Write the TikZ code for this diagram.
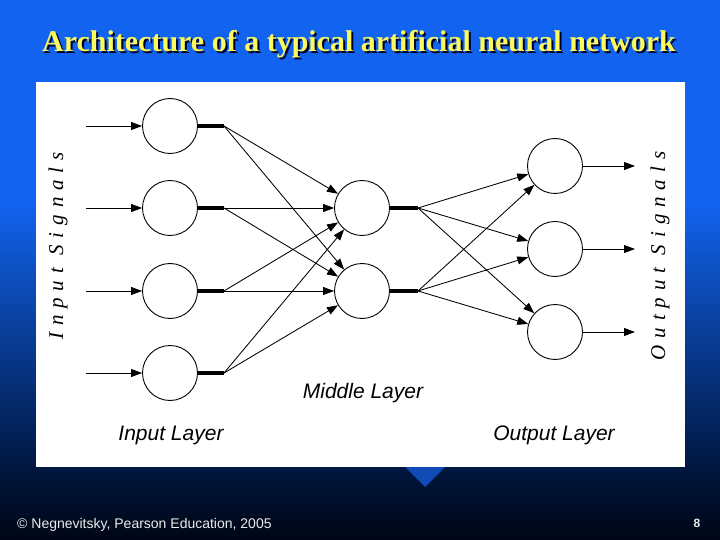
\documentclass[tikz,border=0pt]{standalone}
\usepackage{fontspec}
\setmainfont{Liberation Serif}
\setsansfont{Liberation Sans}
\newfontfamily\sigfont[LetterSpace=33]{Liberation Serif}
\usetikzlibrary{arrows.meta}
\definecolor{bgtop}{RGB}{18,100,240}
\definecolor{bgmid}{RGB}{0,22,62}
\definecolor{bgbot}{RGB}{0,6,20}
\definecolor{titleyellow}{RGB}{250,250,95}
\definecolor{tricol}{RGB}{16,74,180}
\definecolor{footcol}{RGB}{235,235,235}
\begin{document}
\begin{tikzpicture}[x=1pt,y=-1pt,
  neuron/.style={circle,draw=black,line width=0.9pt,minimum size=55pt,inner sep=0pt,fill=white},
  conn/.style={line width=0.85pt,-{Triangle[length=11pt,width=8pt]}},
  stub/.style={line width=3.5pt},
  layerlbl/.style={font=\sffamily\itshape\fontsize{21}{25}\selectfont},
  siglbl/.style={font=\sigfont\itshape\fontsize{21}{25}\selectfont,rotate=90,inner sep=0pt},
]
\useasboundingbox (0,0) rectangle (720,540);
% background
\fill[bgtop] (0,0) rectangle (720,201);
\fill[top color=bgtop,bottom color=bgmid] (0,200) rectangle (720,471);
\fill[top color=bgmid,bottom color=bgbot] (0,470) rectangle (720,540);
% title
\node[font=\bfseries\fontsize{30}{36}\selectfont,text=black!85!blue,anchor=base] (titleshadow) at (361,54) {Architecture of a typical artificial neural network};
\node[font=\bfseries\fontsize{30}{36}\selectfont,text=titleyellow,anchor=base] (title) at (359,52) {Architecture of a typical artificial neural network};
% panel
\fill[white] (36,82) rectangle (685,467);
\fill[tricol] (405,467) -- (445,467) -- (425,487) -- cycle;
% signals labels
\node[siglbl] (insig) at (58,246) {Input Signals};
\node[siglbl] (outsig) at (660,256) {Output Signals};
% neurons
\node[neuron] (i1) at (170,126) {};
\node[neuron] (i2) at (170,208) {};
\node[neuron] (i3) at (170,291) {};
\node[neuron] (i4) at (170,373) {};
\node[neuron] (h1) at (362,208) {};
\node[neuron] (h2) at (362,291) {};
\node[neuron] (o1) at (555,166) {};
\node[neuron] (o2) at (555,249) {};
\node[neuron] (o3) at (555,332) {};
% input arrows
\foreach \k/\y in {1/126,2/208,3/291,4/373}{
  \coordinate (in\k) at (86,\y);
  \coordinate (s\k) at (224,\y);
  \draw[conn] (in\k) -- (i\k);
  \draw[stub] (i\k.east) -- (s\k);
}
\foreach \k/\y in {1/208,2/291}{
  \coordinate (t\k) at (418,\y);
  \draw[stub] (h\k.east) -- (t\k);
}
\foreach \k/\y in {1/166,2/249,3/332}{
  \coordinate (out\k) at (635,\y);
  \draw[conn] (o\k) -- (out\k);
}
\foreach \a in {1,2,3,4}{
  \foreach \b in {1,2}{
    \draw[conn] (s\a) -- (h\b);
  }
}
\foreach \a in {1,2}{
  \foreach \b in {1,2,3}{
    \draw[conn] (t\a) -- (o\b);
  }
}
% layer labels
\node[layerlbl] (midlbl) at (363,393) {Middle Layer};
\node[layerlbl] (inlbl) at (171,435) {Input Layer};
\node[layerlbl] (outlbl) at (554,435) {Output Layer};
% footer
\node[font=\sffamily\fontsize{14}{16}\selectfont,text=footcol,anchor=base west,inner sep=0pt] (foot) at (17,528) {\textcopyright{} Negnevitsky, Pearson Education, 2005};
\node[font=\sffamily\bfseries\fontsize{12}{14}\selectfont,text=footcol,anchor=base,inner sep=0pt] (pnum) at (697,527) {8};
\end{tikzpicture}
\end{document}
